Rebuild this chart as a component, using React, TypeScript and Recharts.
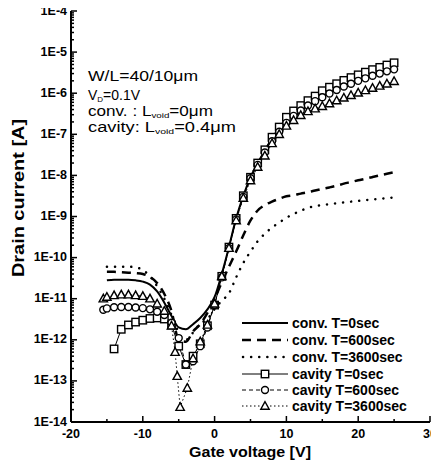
import React from 'react';
import { LineChart, Line, XAxis, YAxis } from 'recharts';

// Gate voltage grid (V)
const gateV = [-15, -14, -13, -12, -11, -10, -9, -8, -7, -6, -5, -4, -3, -2, -1, 0, 1, 2, 3, 4, 5, 6, 7, 8, 9, 10, 11, 12, 13, 14, 15, 16, 17, 18, 19, 20, 21, 22, 23, 24, 25];

// conventional TFT, drain current (A)
const conv0 = [2.8e-11, 2.9e-11, 2.9e-11, 2.9e-11, 2.8e-11, 2.6e-11, 2.2e-11, 1.5e-11, 8e-12, 3.8e-12, 2.0e-12, 1.8e-12, 2.4e-12, 3.4e-12, 5.5e-12, 1.1e-11, 4e-11, 1.8e-10, 9e-10, 3.2e-9, 9e-9, 2e-8, 4e-8, 8e-8, 1.4e-7, 2.4e-7, 3.4e-7, 4.7e-7, 6.2e-7, 8e-7, 1.0e-6, 1.25e-6, 1.5e-6, 1.8e-6, 2.1e-6, 2.45e-6, 2.8e-6, 3.2e-6, 3.6e-6, 4.0e-6, 4.4e-6];
const conv600 = [4.5e-11, 4.5e-11, 4.4e-11, 4.3e-11, 4.2e-11, 4.0e-11, 3.4e-11, 2.4e-11, 1.3e-11, 5e-12, 1.0e-12, 9e-13, 1.6e-12, 2.4e-12, 4.5e-12, 1.0e-11, 2.5e-11, 6e-11, 1.4e-10, 3.5e-10, 8e-10, 1.4e-9, 1.9e-9, 2.3e-9, 2.7e-9, 3.1e-9, 3.3e-9, 3.6e-9, 3.9e-9, 4.3e-9, 4.7e-9, 5.1e-9, 5.6e-9, 6.3e-9, 6.9e-9, 7.6e-9, 8.3e-9, 9.1e-9, 1.0e-8, 1.1e-8, 1.2e-8];
const conv3600 = [6e-11, 6e-11, 6e-11, 6e-11, 5.8e-11, 5e-11, 3.5e-11, 2e-11, 1e-11, 4e-12, 1.5e-12, 1e-12, 1.5e-12, 2.5e-12, 3.2e-12, 5.6e-12, 8.9e-12, 1.35e-11, 3.3e-11, 7.4e-11, 1.4e-10, 2.5e-10, 3.8e-10, 5.4e-10, 7.1e-10, 9.3e-10, 1.15e-9, 1.38e-9, 1.62e-9, 1.78e-9, 1.9e-9, 2.0e-9, 2.1e-9, 2.2e-9, 2.3e-9, 2.4e-9, 2.5e-9, 2.6e-9, 2.7e-9, 2.8e-9, 2.9e-9];

// cavity TFT
const cav0V = [-14, -13, -12, -11, -10, -9, -8, -7, -6, -5, -4, -3, -2, -1, 0, 1, 2, 3, 4, 5, 6, 7, 8, 9, 10, 11, 12, 13, 14, 15, 16, 17, 18, 19, 20, 21, 22, 23, 24, 25];
const cav0 = [6e-13, 1.8e-12, 2.3e-12, 2.7e-12, 3.0e-12, 3.3e-12, 3.4e-12, 3.2e-12, 2.3e-12, 7e-13, 2.5e-13, 4e-13, 8e-13, 2.2e-12, 7e-12, 3.5e-11, 1.8e-10, 9e-10, 3.2e-9, 9e-9, 2e-8, 4.2e-8, 8.5e-8, 1.5e-7, 2.6e-7, 3.7e-7, 5e-7, 6.6e-7, 8.5e-7, 1.15e-6, 1.4e-6, 1.7e-6, 2.05e-6, 2.4e-6, 2.8e-6, 3.25e-6, 3.75e-6, 4.25e-6, 4.85e-6, 5.5e-6];

const cav600V = [-15.5, -15, -14, -13, -12, -11, -10, -9, -8, -7, -6, -5, -4, -3, -2, -1, 0, 1, 2, 3, 4, 5, 6, 7, 8, 9, 10, 11, 12, 13, 14, 15, 16, 17, 18, 19, 20, 21, 22, 23, 24, 25];
const cav600 = [5.4e-12, 5.8e-12, 6.2e-12, 6.3e-12, 6.3e-12, 6.1e-12, 5.9e-12, 5.5e-12, 4.8e-12, 4e-12, 2.6e-12, 1.1e-12, 2.5e-13, 3e-13, 7e-13, 2e-12, 7e-12, 3.3e-11, 1.7e-10, 8.5e-10, 3e-9, 8.5e-9, 1.8e-8, 3.6e-8, 6.8e-8, 1.15e-7, 1.9e-7, 2.8e-7, 3.8e-7, 5e-7, 6.4e-7, 8e-7, 9.8e-7, 1.2e-6, 1.45e-6, 1.7e-6, 2e-6, 2.3e-6, 2.65e-6, 3e-6, 3.4e-6, 3.8e-6];

const cav3600V = [-15.5, -15, -14, -13, -12, -11, -10, -9, -8, -7, -6, -5.5, -5.2, -4.8, -3.8, -3, -2, -1, 0, 1, 2, 3, 4, 5, 6, 7, 8, 9, 10, 11, 12, 13, 14, 15, 16, 17, 18, 19, 20, 21, 22, 23, 24, 25];
const cav3600 = [1.0e-11, 1.1e-11, 1.2e-11, 1.25e-11, 1.25e-11, 1.2e-11, 1.15e-11, 1.0e-11, 7.5e-12, 5e-12, 2.2e-12, 5e-13, 1.3e-13, 2.3e-14, 6.7e-14, 3.5e-13, 9e-13, 2.3e-12, 7.5e-12, 3.5e-11, 1.7e-10, 8e-10, 2.8e-9, 7.5e-9, 1.6e-8, 3e-8, 6e-8, 1.0e-7, 1.6e-7, 2.2e-7, 2.9e-7, 3.6e-7, 4.2e-7, 4.8e-7, 5.6e-7, 6.6e-7, 7.7e-7, 8.9e-7, 1.02e-6, 1.17e-6, 1.33e-6, 1.5e-6, 1.7e-6, 1.95e-6];

// axis ticks
const xMajorTicks = [-20, -10, 0, 10, 20, 30];
const xMinorTicks = [-15, -5, 5, 15, 25];
const yDecades = [-14, -13, -12, -11, -10, -9, -8, -7, -6, -5, -4];
const yMinorMultipliers = [2, 3, 4, 5, 6, 7, 8, 9];

const seriesNames = ['conv. T=0sec', 'conv. T=600sec', 'conv. T=3600sec', 'cavity T=0sec', 'cavity T=600sec', 'cavity T=3600sec'];

const xTicks = [...xMajorTicks, ...xMinorTicks].sort((a, b) => a - b);
const yTicks: number[] = [];
yDecades.forEach((d, i) => {
  yTicks.push(Math.pow(10, d));
  if (i < yDecades.length - 1) yMinorMultipliers.forEach((m) => yTicks.push(m * Math.pow(10, d)));
});

const toData = (xs: number[], ys: number[]) => xs.map((v, i) => ({ v, i: ys[i] }));

const isMajorY = (v: number) => {
  const l = Math.log10(v);
  return Math.abs(l - Math.round(l)) < 1e-6;
};
const yLabel = (v: number) => '1E' + Math.round(Math.log10(v));

const textFont = 'Arial, "Liberation Sans", sans-serif';
const tickFont = { fontFamily: textFont, fontWeight: 700 as const, fontSize: 12.5 };

const LeftTick = (props: any) => {
  const { x, y, payload } = props;
  const major = isMajorY(payload.value);
  return (
    <g>
      <line x1={x} x2={x + (major ? 6 : 3)} y1={y} y2={y} stroke="#000" strokeWidth={1.5} />
      {major && (
        <text x={x - 4} y={y} dy={3.5} textAnchor="end" {...tickFont} fill="#000">
          {yLabel(payload.value)}
        </text>
      )}
    </g>
  );
};
const RightTick = (props: any) => {
  const { x, y, payload } = props;
  const major = isMajorY(payload.value);
  return <line x1={x} x2={x - (major ? 6 : 3)} y1={y} y2={y} stroke="#000" strokeWidth={1.5} />;
};
const BottomTick = (props: any) => {
  const { x, y, payload } = props;
  const major = xMajorTicks.includes(payload.value);
  return (
    <g>
      <line x1={x} x2={x} y1={y} y2={y - (major ? 6 : 3)} stroke="#000" strokeWidth={1.5} />
      {major && (
        <text x={x} y={y + 16} textAnchor="middle" {...tickFont} fill="#000">
          {payload.value}
        </text>
      )}
    </g>
  );
};
const TopTick = (props: any) => {
  const { x, y, payload } = props;
  const major = xMajorTicks.includes(payload.value);
  return <line x1={x} x2={x} y1={y} y2={y + (major ? 6 : 3)} stroke="#000" strokeWidth={1.5} />;
};

const SquareDot = (p: any) => {
  const { cx, cy, index } = p;
  if (cx == null || cy == null) return <g key={index} />;
  return <rect key={index} x={cx - 3.7} y={cy - 3.7} width={7.4} height={7.4} fill="#fff" stroke="#000" strokeWidth={1.4} />;
};
const CircleDot = (p: any) => {
  const { cx, cy, index } = p;
  if (cx == null || cy == null) return <g key={index} />;
  return <circle key={index} cx={cx} cy={cy} r={3.5} fill="#fff" stroke="#000" strokeWidth={1.4} />;
};
const TriDot = (p: any) => {
  const { cx, cy, index } = p;
  if (cx == null || cy == null) return <g key={index} />;
  return (
    <polygon key={index} points={`${cx},${cy - 4.4} ${cx - 4.2},${cy + 3.2} ${cx + 4.2},${cy + 3.2}`} fill="#fff" stroke="#000" strokeWidth={1.4} />
  );
};

const Overlay = () => {
  const rows = [323, 340, 357, 374, 390, 406];
  return (
    <svg width={439} height={462} style={{ position: 'absolute', left: 0, top: 0, pointerEvents: 'none' }}>
      {/* axis titles */}
      <text
        x={0}
        y={0}
        transform="translate(24,198) rotate(-90)"
        textAnchor="middle"
        fontFamily={textFont}
        fontWeight={700}
        fontSize={16}
        fill="#000"
        textLength={158}
        lengthAdjust="spacingAndGlyphs"
      >
        Drain current [A]
      </text>
      <text x={250} y={457} textAnchor="middle" fontFamily={textFont} fontWeight={700} fontSize={14} fill="#000" textLength={122} lengthAdjust="spacingAndGlyphs">
        Gate voltage [V]
      </text>

      {/* annotations */}
      <g fontFamily={textFont} fontSize={14} fill="#000">
        <text x={88} y={81} textLength={110} lengthAdjust="spacingAndGlyphs">W/L=40/10μm</text>
        <text x={88} y={100} textLength={52} lengthAdjust="spacingAndGlyphs">
          V<tspan fontSize={8} dy={2}>D</tspan>
          <tspan dy={-2}>=0.1V</tspan>
        </text>
        <text x={88} y={116} textLength={125} lengthAdjust="spacingAndGlyphs">
          conv. : L<tspan fontSize={8} dy={2}>void</tspan>
          <tspan dy={-2}>=0μm</tspan>
        </text>
        <text x={88} y={132} textLength={148} lengthAdjust="spacingAndGlyphs">
          cavity: L<tspan fontSize={8} dy={2}>void</tspan>
          <tspan dy={-2}>=0.4μm</tspan>
        </text>
      </g>

      {/* legend */}
      <g>
        <line x1={242} x2={288} y1={rows[0]} y2={rows[0]} stroke="#000" strokeWidth={2} />
        <line x1={242} x2={288} y1={rows[1]} y2={rows[1]} stroke="#000" strokeWidth={2.5} strokeDasharray="9 6" />
        <line x1={243} x2={288} y1={rows[2]} y2={rows[2]} stroke="#000" strokeWidth={2.5} strokeDasharray="0.1 8" strokeLinecap="round" />
        <line x1={242} x2={288} y1={rows[3]} y2={rows[3]} stroke="#000" strokeWidth={1} />
        <rect x={261.3} y={rows[3] - 3.7} width={7.4} height={7.4} fill="#fff" stroke="#000" strokeWidth={1.4} />
        <line x1={242} x2={288} y1={rows[4]} y2={rows[4]} stroke="#000" strokeWidth={1} strokeDasharray="4 3" />
        <circle cx={265} cy={rows[4]} r={3.5} fill="#fff" stroke="#000" strokeWidth={1.4} />
        <line x1={242} x2={288} y1={rows[5]} y2={rows[5]} stroke="#000" strokeWidth={1} strokeDasharray="1.5 2.5" />
        <polygon points={`265,${rows[5] - 4.4} 260.8,${rows[5] + 3.2} 269.2,${rows[5] + 3.2}`} fill="#fff" stroke="#000" strokeWidth={1.4} />
        {seriesNames.map((n, k) => (
          <text key={n} x={292} y={rows[k] + 5} fontFamily={textFont} fontWeight={700} fontSize={14} fill="#000">
            {n}
          </text>
        ))}
      </g>
    </svg>
  );
};

export default function App() {
  return (
    <div style={{ position: 'relative', width: 439, height: 462, margin: '-8px 0 0 -8px' }}>
      <LineChart width={439} height={462} margin={{ top: 11, right: 9, bottom: 0, left: 31 }}>
        <XAxis
          xAxisId="b"
          dataKey="v"
          type="number"
          domain={[-20, 30]}
          ticks={xTicks}
          interval={0}
          height={40}
          tickLine={false}
          tickSize={0}
          tickMargin={0}
          tick={<BottomTick />}
          axisLine={{ stroke: '#000', strokeWidth: 2 }}
          allowDataOverflow
        />
        <XAxis
          xAxisId="t"
          orientation="top"
          dataKey="v"
          type="number"
          domain={[-20, 30]}
          ticks={xTicks}
          interval={0}
          height={0}
          tickLine={false}
          tickSize={0}
          tickMargin={0}
          tick={<TopTick />}
          axisLine={{ stroke: '#000', strokeWidth: 2 }}
          allowDataOverflow
        />
        <YAxis
          yAxisId="l"
          scale="log"
          type="number"
          domain={[1e-14, 1e-4]}
          ticks={yTicks}
          interval={0}
          width={40}
          tickLine={false}
          tickSize={0}
          tickMargin={0}
          tick={<LeftTick />}
          axisLine={{ stroke: '#000', strokeWidth: 2 }}
          allowDataOverflow
        />
        <YAxis
          yAxisId="r"
          orientation="right"
          scale="log"
          type="number"
          domain={[1e-14, 1e-4]}
          ticks={yTicks}
          interval={0}
          width={0}
          tickLine={false}
          tickSize={0}
          tickMargin={0}
          tick={<RightTick />}
          axisLine={{ stroke: '#000', strokeWidth: 2 }}
          allowDataOverflow
        />
        <Line xAxisId="b" yAxisId="l" data={toData(gateV, conv0)} dataKey="i" type="monotone" stroke="#000" strokeWidth={2} dot={false} isAnimationActive={false} />
        <Line xAxisId="b" yAxisId="l" data={toData(gateV, conv600)} dataKey="i" type="monotone" stroke="#000" strokeWidth={2.5} strokeDasharray="9 6" dot={false} isAnimationActive={false} />
        <Line xAxisId="b" yAxisId="l" data={toData(gateV, conv3600)} dataKey="i" type="monotone" stroke="#000" strokeWidth={2.5} strokeDasharray="0.1 8" strokeLinecap="round" dot={false} isAnimationActive={false} />
        <Line xAxisId="b" yAxisId="l" data={toData(cav0V, cav0)} dataKey="i" type="linear" stroke="#000" strokeWidth={1} dot={(p: any) => <SquareDot key={p.index} {...p} />} isAnimationActive={false} />
        <Line xAxisId="b" yAxisId="l" data={toData(cav600V, cav600)} dataKey="i" type="linear" stroke="#000" strokeWidth={1} strokeDasharray="4 3" dot={(p: any) => <CircleDot key={p.index} {...p} />} isAnimationActive={false} />
        <Line xAxisId="b" yAxisId="l" data={toData(cav3600V, cav3600)} dataKey="i" type="linear" stroke="#000" strokeWidth={1} strokeDasharray="1.5 2.5" dot={(p: any) => <TriDot key={p.index} {...p} />} isAnimationActive={false} />
      </LineChart>
      <Overlay />
    </div>
  );
}
